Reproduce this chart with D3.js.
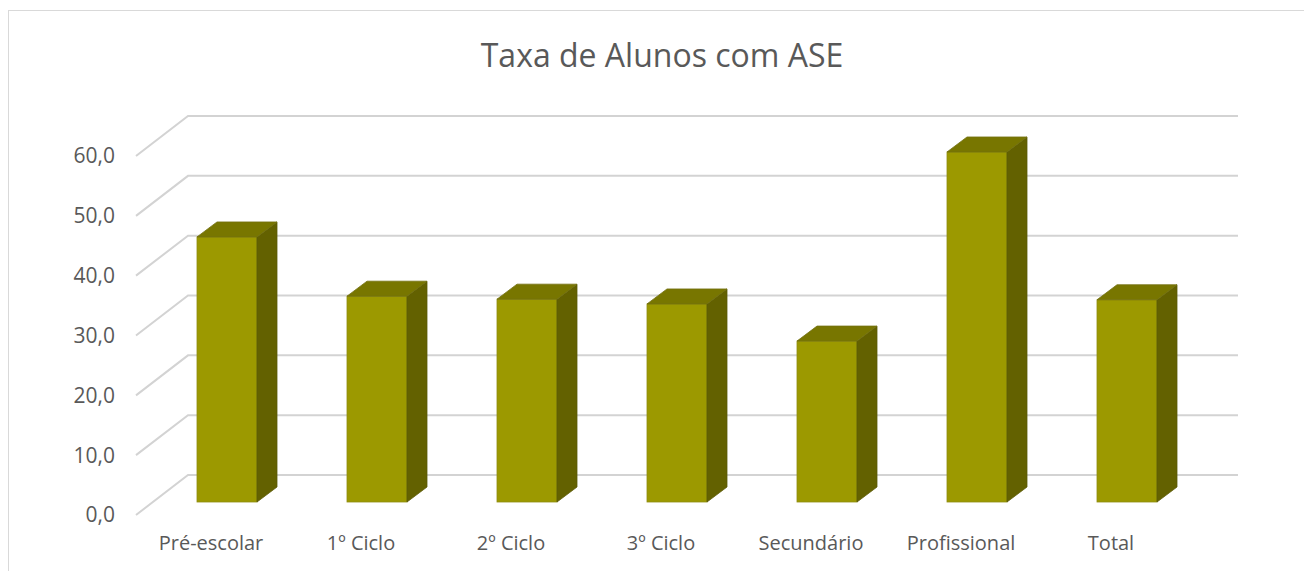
<!DOCTYPE html>
<html>
<head>
<meta charset="utf-8">
<script src="https://cdn.jsdelivr.net/npm/d3@7"></script>
<style>
  body { margin: 0; background: #fff; }
  text { font-family: "Open Sans", "Noto Sans", sans-serif; fill: #595959; }
</style>
</head>
<body>
<div id="chart"></div>
<script>
// data
var categories = ["Pré-escolar", "1º Ciclo", "2º Ciclo", "3º Ciclo", "Secundário", "Profissional", "Total"];
var values = [44.3, 34.4, 33.9, 33.1, 26.9, 58.5, 33.8];
var yTicks = [0, 10, 20, 30, 40, 50, 60];

var width = 1304, height = 571;

// 3d-ish geometry: front plane, wall depth and bar depth
var depth = {dx: 52, dy: -40};
var barOff = {dx: 16, dy: -13};
var barDepth = {dx: 20, dy: -15};

var svg = d3.select("#chart")
  .append("svg")
    .attr("width", width)
    .attr("height", height);

// chart area border
svg.append("rect")
    .attr("x", 8.5)
    .attr("y", 10.5)
    .attr("width", 1400)
    .attr("height", 700)
    .attr("fill", "none")
    .attr("stroke", "#d9d9d9");

var x = d3.scaleBand()
    .domain(categories)
    .range([136, 1186]);

var y = d3.scaleLinear()
    .domain([0, 60])
    .range([515, 156]);

var fmt = d3.formatLocale({decimal: ",", thousands: ".", grouping: [3], currency: ["", "€"]}).format(".1f");

// title
svg.append("text")
    .attr("x", 662)
    .attr("y", 67)
    .attr("text-anchor", "middle")
    .style("font-size", "32px")
    .text("Taxa de Alunos com ASE");

// gridlines: diagonal on the side then flat along the back wall
svg.append("g")
  .selectAll("path")
  .data(yTicks)
  .enter()
  .append("path")
    .attr("d", function(d) {
      var x0 = x.range()[0], y0 = y(d);
      return "M" + x0 + "," + y0 +
             "L" + (x0 + depth.dx) + "," + (y0 + depth.dy) +
             "L" + (x.range()[1] + depth.dx) + "," + (y0 + depth.dy);
    })
    .attr("fill", "none")
    .attr("stroke", "#d3d3d3")
    .attr("stroke-width", 2);

// y tick labels
svg.append("g")
  .selectAll("text")
  .data(yTicks)
  .enter()
  .append("text")
    .attr("x", 115)
    .attr("y", function(d) { return y(d); })
    .attr("dy", "0.35em")
    .attr("text-anchor", "end")
    .style("font-size", "21px")
    .text(function(d) { return fmt(d); });

// bars
var bw = x.bandwidth() * 0.4;
var bars = svg.append("g")
  .selectAll("g")
  .data(categories)
  .enter()
  .append("g");

function fx(d) { return x(d) + (x.bandwidth() - bw) / 2 + barOff.dx; }
function fy(i) { return y(values[i]) + barOff.dy; }
var base = y(0) + barOff.dy;

// front face
bars.append("rect")
    .attr("x", function(d) { return fx(d); })
    .attr("y", function(d, i) { return fy(i); })
    .attr("width", bw)
    .attr("height", function(d, i) { return base - fy(i); })
    .attr("fill", "#9c9900")
    .attr("stroke", "#8f8c10")
    .attr("stroke-width", 0.8);

// side face
bars.append("path")
    .attr("d", function(d, i) {
      var x1 = fx(d) + bw, t = fy(i);
      return "M" + x1 + "," + t +
             "L" + (x1 + barDepth.dx) + "," + (t + barDepth.dy) +
             "L" + (x1 + barDepth.dx) + "," + (base + barDepth.dy) +
             "L" + x1 + "," + base + "Z";
    })
    .attr("fill", "#636100")
    .attr("stroke", "#5c5a08")
    .attr("stroke-width", 0.8);

// top face
bars.append("path")
    .attr("d", function(d, i) {
      var x0 = fx(d), t = fy(i);
      return "M" + x0 + "," + t +
             "L" + (x0 + barDepth.dx) + "," + (t + barDepth.dy) +
             "L" + (x0 + bw + barDepth.dx) + "," + (t + barDepth.dy) +
             "L" + (x0 + bw) + "," + t + "Z";
    })
    .attr("fill", "#787600")
    .attr("stroke", "#727010")
    .attr("stroke-width", 0.8);

// category labels
svg.append("g")
  .selectAll("text")
  .data(categories)
  .enter()
  .append("text")
    .attr("x", function(d) { return x(d) + x.bandwidth() / 2; })
    .attr("y", 550)
    .attr("text-anchor", "middle")
    .style("font-size", "20px")
    .text(function(d) { return d; });
</script>
</body>
</html>
